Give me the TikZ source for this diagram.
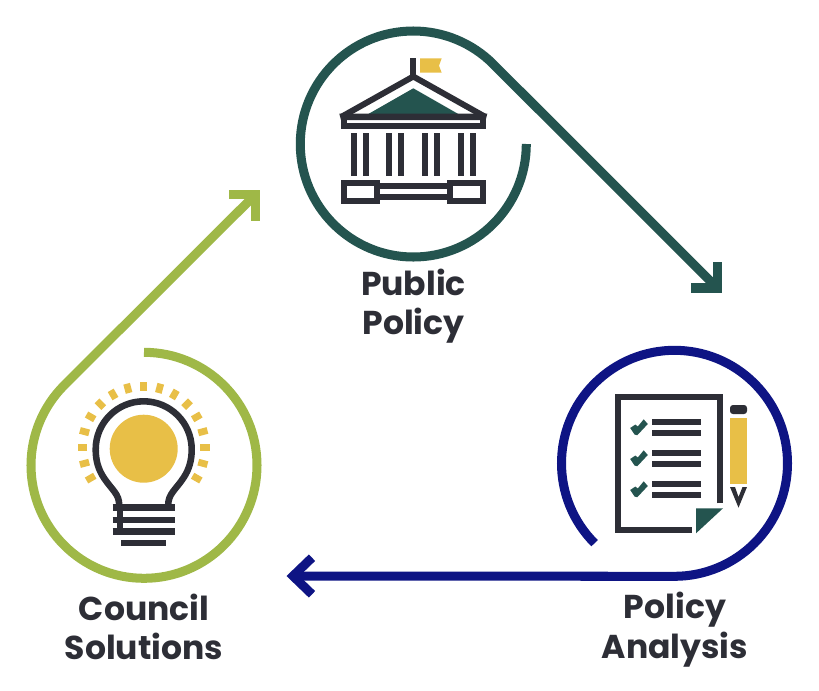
\documentclass[tikz,border=0pt]{standalone}
\usepackage{fontspec}
\setmainfont{Poppins}
\usetikzlibrary{calc,positioning}
\definecolor{tealc}{HTML}{24544F}
\definecolor{bluec}{HTML}{0E1484}
\definecolor{greenc}{HTML}{9FB847}
\definecolor{goldc}{HTML}{E8BF47}
\definecolor{inkc}{HTML}{2D2E36}
\tikzset{
    ring/.style={line width=7.7pt,line cap=butt,line join=miter,miter limit=10},
    icon/.style={line width=5.1pt,draw=inkc,line cap=butt,line join=miter},
    caption/.style={align=center,text=inkc,inner sep=0pt,
        font=\fontsize{28.2}{33.6}\selectfont\bfseries},
}
\newcommand{\drawCheck}[1]{
    \begin{scope}[shift={(0,#1)}]
        \fill[tealc] (630.2,428) -- (635.3,424.6) -- (637.9,426.4) -- (643.7,419.3) -- (647.8,424) -- (637.3,435.2) -- (634.5,434.5) -- cycle;
    \end{scope}
}
\begin{document}
\begin{tikzpicture}[x=0.03cm,y=-0.03cm]
        \useasboundingbox (0,0) rectangle (819,690);

        % --- Variables ---
        \coordinate (capitol) at (413.3,144);
        \coordinate (sheet) at (674.5,463.3);
        \coordinate (bulb) at (144,465.3);
        \def\R{113}

        % Public policy ring and arrow
        \draw[ring,tealc] ($(capitol)+(\R,0)$) arc[start angle=0,end angle=315,radius=\R] -- (717.2,288);
        \draw[ring,tealc] (691.3,288) -- (717.2,288) -- (717.2,262.3);

        % Policy analysis ring and arrow
        \draw[ring,bluec] ($(sheet)+(135:\R)$) arc[start angle=135,end angle=450,radius=\R] -- (293,576);
        \draw[ring,bluec] (312,557.7) -- (293,576) -- (312,594.3);

        % Council solutions ring and arrow
        \draw[ring,greenc] ($(bulb)+(270:\R)$) arc[start angle=270,end angle=585,radius=\R] -- (255.3,194.6);
        \draw[ring,greenc] (229,194.6) -- (255.3,194.6) -- (255.3,220.7);

        % Building: flag and roof
        \fill[goldc] (420,58.3) -- (441.7,58.3) -- (439,65.7) -- (441.7,72.7) -- (420,72.7) -- cycle;
        \draw[icon] (413.3,58.3) -- (413.3,76);
        \fill[tealc] (413.3,88.3) -- (368.3,114) -- (458.3,114) -- cycle;
        \draw[icon] (342,116.5) -- (413.3,76.5) -- (484.6,116.5);
        \fill[inkc] (339.3,113.7) -- (487.3,113.7) -- (485.7,120) -- (341,120) -- cycle;
        \draw[icon] (344,120) -- (344,126.3) -- (482.7,126.3) -- (482.7,120);

        % Building: columns
        \foreach \c in {353.7,365.7,389.3,401.3,425,437,461,473}{
            \draw[icon] (\c,133.3) -- (\c,175.7);
        }

        % Building: base
        \draw[icon] (344,183) rectangle (377,201);
        \draw[icon] (449.7,183) rectangle (482.7,201);
        \draw[icon] (377,186.3) -- (449.7,186.3);
        \draw[icon] (377,197) -- (449.7,197);

        % Sheet and folded corner
        \draw[icon] (720,503.3) -- (720,397) -- (618.3,397) -- (618.3,530.3) -- (691.7,530.3);
        \fill[tealc] (696,508.3) -- (723,508.3) -- (696,533.3) -- cycle;

        % Checklist
        \foreach \y in {0,31,62}{
            \drawCheck{\y}
        }
        \foreach \y in {422.3,432.7,453.2,463.7,484.2,494.7}{
            \draw[icon] (652,\y) -- (700.7,\y);
        }

        % Pencil
        \fill[inkc,rounded corners=2.5pt] (730,414) -- (730,405) -- (747,405) -- (747,414) -- cycle;
        \fill[goldc] (730,418) rectangle (747,483.7);
        \fill[inkc] (730,487) -- (735,487) -- (738.5,497) -- (742.5,487) -- (747,487) -- (738.5,507.7) -- cycle;

        % Bulb rays and glow
        \foreach \a in {-30,-15,...,210}{
            \fill[goldc,shift={(143.7,447.5)},rotate=\a] (56.5,-3.4) rectangle (66,3.4);
        }
        \fill[goldc] (143.7,448.7) circle[radius=34];

        % Bulb outline
        \draw[icon,line width=5.6pt] (119.2,505) .. controls (119.2,494) and (112,490) .. (104,478)
            .. controls (98,469) and (95.7,460) .. (95.7,449.3)
            arc[start angle=180,end angle=360,radius=48]
            .. controls (191.7,460) and (189.4,469) .. (183.4,478)
            .. controls (175.4,490) and (168.2,494) .. (168.2,505);

        % Bulb screw
        \foreach \y in {507.6,519.8,531.3}{
            \draw[icon,line width=5.6pt] (112.7,\y) -- (174.7,\y);
        }
        \draw[icon] (120.3,507.6) -- (120.3,531.3);
        \draw[icon,line width=5.6pt] (121,543) -- (166,543);

        % Labels
        \node[caption] (publicLabel) at (413.5,306) {Public\\Policy};
        \node[caption] (analysisLabel) at (675,629.5) {Policy\\Analysis};
        \node[caption] (councilLabel) at (144,627) {Council\\Solutions};

    \end{tikzpicture}
\end{document}
